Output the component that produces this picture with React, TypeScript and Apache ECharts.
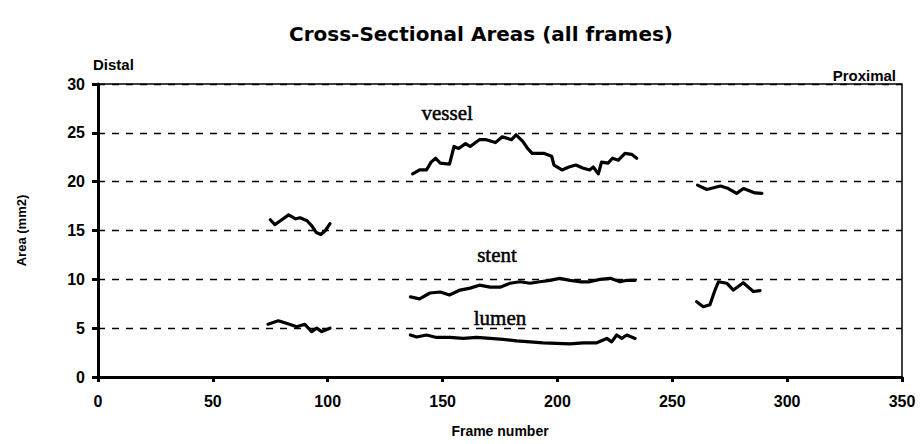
import React, { useEffect, useRef } from "react";
import * as echarts from "echarts";

const xTicks = [0, 50, 100, 150, 200, 250, 300, 350];
const yTicks = [0, 5, 10, 15, 20, 25, 30];

const vesselA: [number, number][] = [
  [75, 16.1], [77, 15.6], [80, 16.1], [83, 16.6], [86, 16.2], [88, 16.3],
  [91, 16.0], [93, 15.5], [95, 14.8], [97, 14.6], [99, 15.0], [101, 15.7],
];
const vesselB: [number, number][] = [
  [137, 20.8], [140, 21.2], [143, 21.2], [145, 22.0], [147, 22.4], [149, 21.9],
  [153, 21.8], [155, 23.6], [157, 23.4], [160, 23.9], [162, 23.6], [166, 24.3],
  [169, 24.3], [173, 24.0], [176, 24.6], [180, 24.3], [182, 24.8], [185, 24.1],
  [187, 23.4], [189, 22.9], [194, 22.9], [197.5, 22.6], [198.5, 21.7], [202, 21.2],
  [205, 21.5], [208, 21.7], [211, 21.4], [214, 21.2], [215.6, 21.5], [217.8, 20.8],
  [219.2, 22.0], [222, 21.9], [224, 22.4], [226.5, 22.2], [229.4, 22.9], [232.3, 22.8],
  [234.5, 22.4],
];
const vesselC: [number, number][] = [
  [261, 19.65], [265, 19.2], [271, 19.55], [274.4, 19.3], [278, 18.8], [281, 19.3],
  [286, 18.85], [289, 18.8],
];
const stentB: [number, number][] = [
  [136, 8.2], [140, 8.0], [144.5, 8.6], [149, 8.7], [153, 8.4], [157.6, 8.9],
  [162, 9.1], [166, 9.4], [170.7, 9.2], [175, 9.2], [179.4, 9.6], [183.7, 9.75],
  [188, 9.6], [192.4, 9.75], [196.8, 9.9], [201, 10.1], [205.5, 9.9], [209.8, 9.75],
  [214, 9.75], [218.5, 10.0], [223, 10.1], [227.3, 9.75], [230.2, 9.9], [233.8, 9.9],
];
const stentC: [number, number][] = [
  [260.6, 7.7], [263.5, 7.2], [266.4, 7.4], [268.6, 8.9], [270.1, 9.75], [273.7, 9.6],
  [276.6, 8.9], [280.9, 9.65], [285.3, 8.75], [288.2, 8.85],
];
const lumenA: [number, number][] = [
  [74, 5.4], [78.5, 5.75], [82, 5.5], [86.5, 5.15], [90, 5.4], [93, 4.65],
  [95.2, 5.0], [97.4, 4.65], [101, 5.0],
];
const lumenB: [number, number][] = [
  [136, 4.3], [138.7, 4.1], [143, 4.3], [147.4, 4.05], [153.2, 4.05], [159, 3.95],
  [164.8, 4.05], [170.7, 3.95], [176.4, 3.85], [182.3, 3.7], [188, 3.6], [193.8, 3.5],
  [199.6, 3.45], [205.5, 3.4], [211.3, 3.5], [217.1, 3.5], [221.5, 3.95], [223.6, 3.6],
  [225.8, 4.3], [228, 3.95], [230.2, 4.3], [233.8, 3.95],
];
const seriesLabels: [number, number, string][] = [
  [152, 27.0, "vessel"],
  [173.7, 12.5, "stent"],
  [175, 6.0, "lumen"],
];

const segments = [vesselA, vesselB, vesselC, stentB, stentC, lumenA, lumenB];

export default function App() {
  const ref = useRef<HTMLDivElement>(null);
  useEffect(() => {
    if (!ref.current) return;
    const chart = echarts.init(ref.current, null, { renderer: "svg" });
    const bold = "'Liberation Sans', Arial, sans-serif";
    chart.setOption({
      animation: false,
      backgroundColor: "#ffffff",
      title: {
        text: "Cross-Sectional Areas (all frames)",
        left: 476,
        top: 19,
        textAlign: "center",
        textStyle: {
          fontFamily: "'DejaVu Sans', sans-serif",
          fontWeight: "bold",
          fontSize: 20,
          color: "#000",
        },
      },
      graphic: [
        {
          type: "text",
          left: 93,
          top: 57,
          style: { text: "Distal", font: `bold 15px ${bold}`, fill: "#000" },
        },
        {
          type: "text",
          right: 27,
          top: 68,
          style: { text: "Proximal", font: `bold 15px ${bold}`, fill: "#000" },
        },
      ],
      grid: {
        left: 98,
        right: 21,
        top: 84,
        bottom: 67,
        show: true,
        borderColor: "#000",
        borderWidth: 1.5,
        backgroundColor: "transparent",
      },
      xAxis: {
        type: "value",
        min: 0,
        max: 350,
        interval: 50,
        name: "Frame number",
        nameLocation: "middle",
        nameGap: 47,
        nameTextStyle: { fontFamily: bold, fontWeight: "bold", fontSize: 14, color: "#000" },
        axisLine: { show: true, lineStyle: { color: "#000", width: 3 } },
        axisTick: { show: true, length: 5, lineStyle: { color: "#000", width: 3 } },
        axisLabel: {
          fontFamily: bold,
          fontWeight: "bold",
          fontSize: 16,
          color: "#000",
          margin: 16,
          formatter: (v: number) => (xTicks.includes(v) ? String(v) : ""),
        },
        splitLine: { show: false },
      },
      yAxis: [
        {
          type: "value",
          min: 0,
          max: 30,
          interval: 5,
          name: "Area (mm2)",
          nameLocation: "middle",
          nameGap: 70,
          nameRotate: 90,
          nameTextStyle: { fontFamily: bold, fontWeight: "bold", fontSize: 13, color: "#000" },
          axisLine: { show: true, lineStyle: { color: "#000", width: 3 } },
          axisTick: { show: true, length: 6, lineStyle: { color: "#000", width: 3 } },
          axisLabel: {
            fontFamily: bold,
            fontWeight: "bold",
            fontSize: 16,
            color: "#000",
            margin: 13,
            formatter: (v: number) => (yTicks.includes(v) ? String(v) : ""),
          },
          splitLine: {
            show: true,
            lineStyle: { color: "#000", width: 1.3, type: [7, 7] },
          },
        },
      ],
      series: [
        ...segments.map((d) => ({
          type: "line",
          data: d,
          showSymbol: false,
          symbol: "none",
          lineStyle: { color: "#000", width: 3.2, join: "round", cap: "round" },
          z: 3,
          silent: true,
        })),
        {
          type: "scatter",
          data: seriesLabels,
          symbolSize: 0,
          silent: true,
          itemStyle: { opacity: 1, color: "#000" },
          label: {
            show: true,
            position: "inside",
            formatter: (p: any) => p.data[2],
            fontFamily: "'Liberation Serif', 'Times New Roman', serif",
            fontSize: 21,
            color: "#000",
            opacity: 1,
            textBorderColor: "#000",
            textBorderWidth: 0.5,
          },
        },
      ],
    });
    return () => chart.dispose();
  }, []);
  return <div ref={ref} style={{ width: 923, height: 444, position: "absolute", left: 0, top: 0 }} />;
}
